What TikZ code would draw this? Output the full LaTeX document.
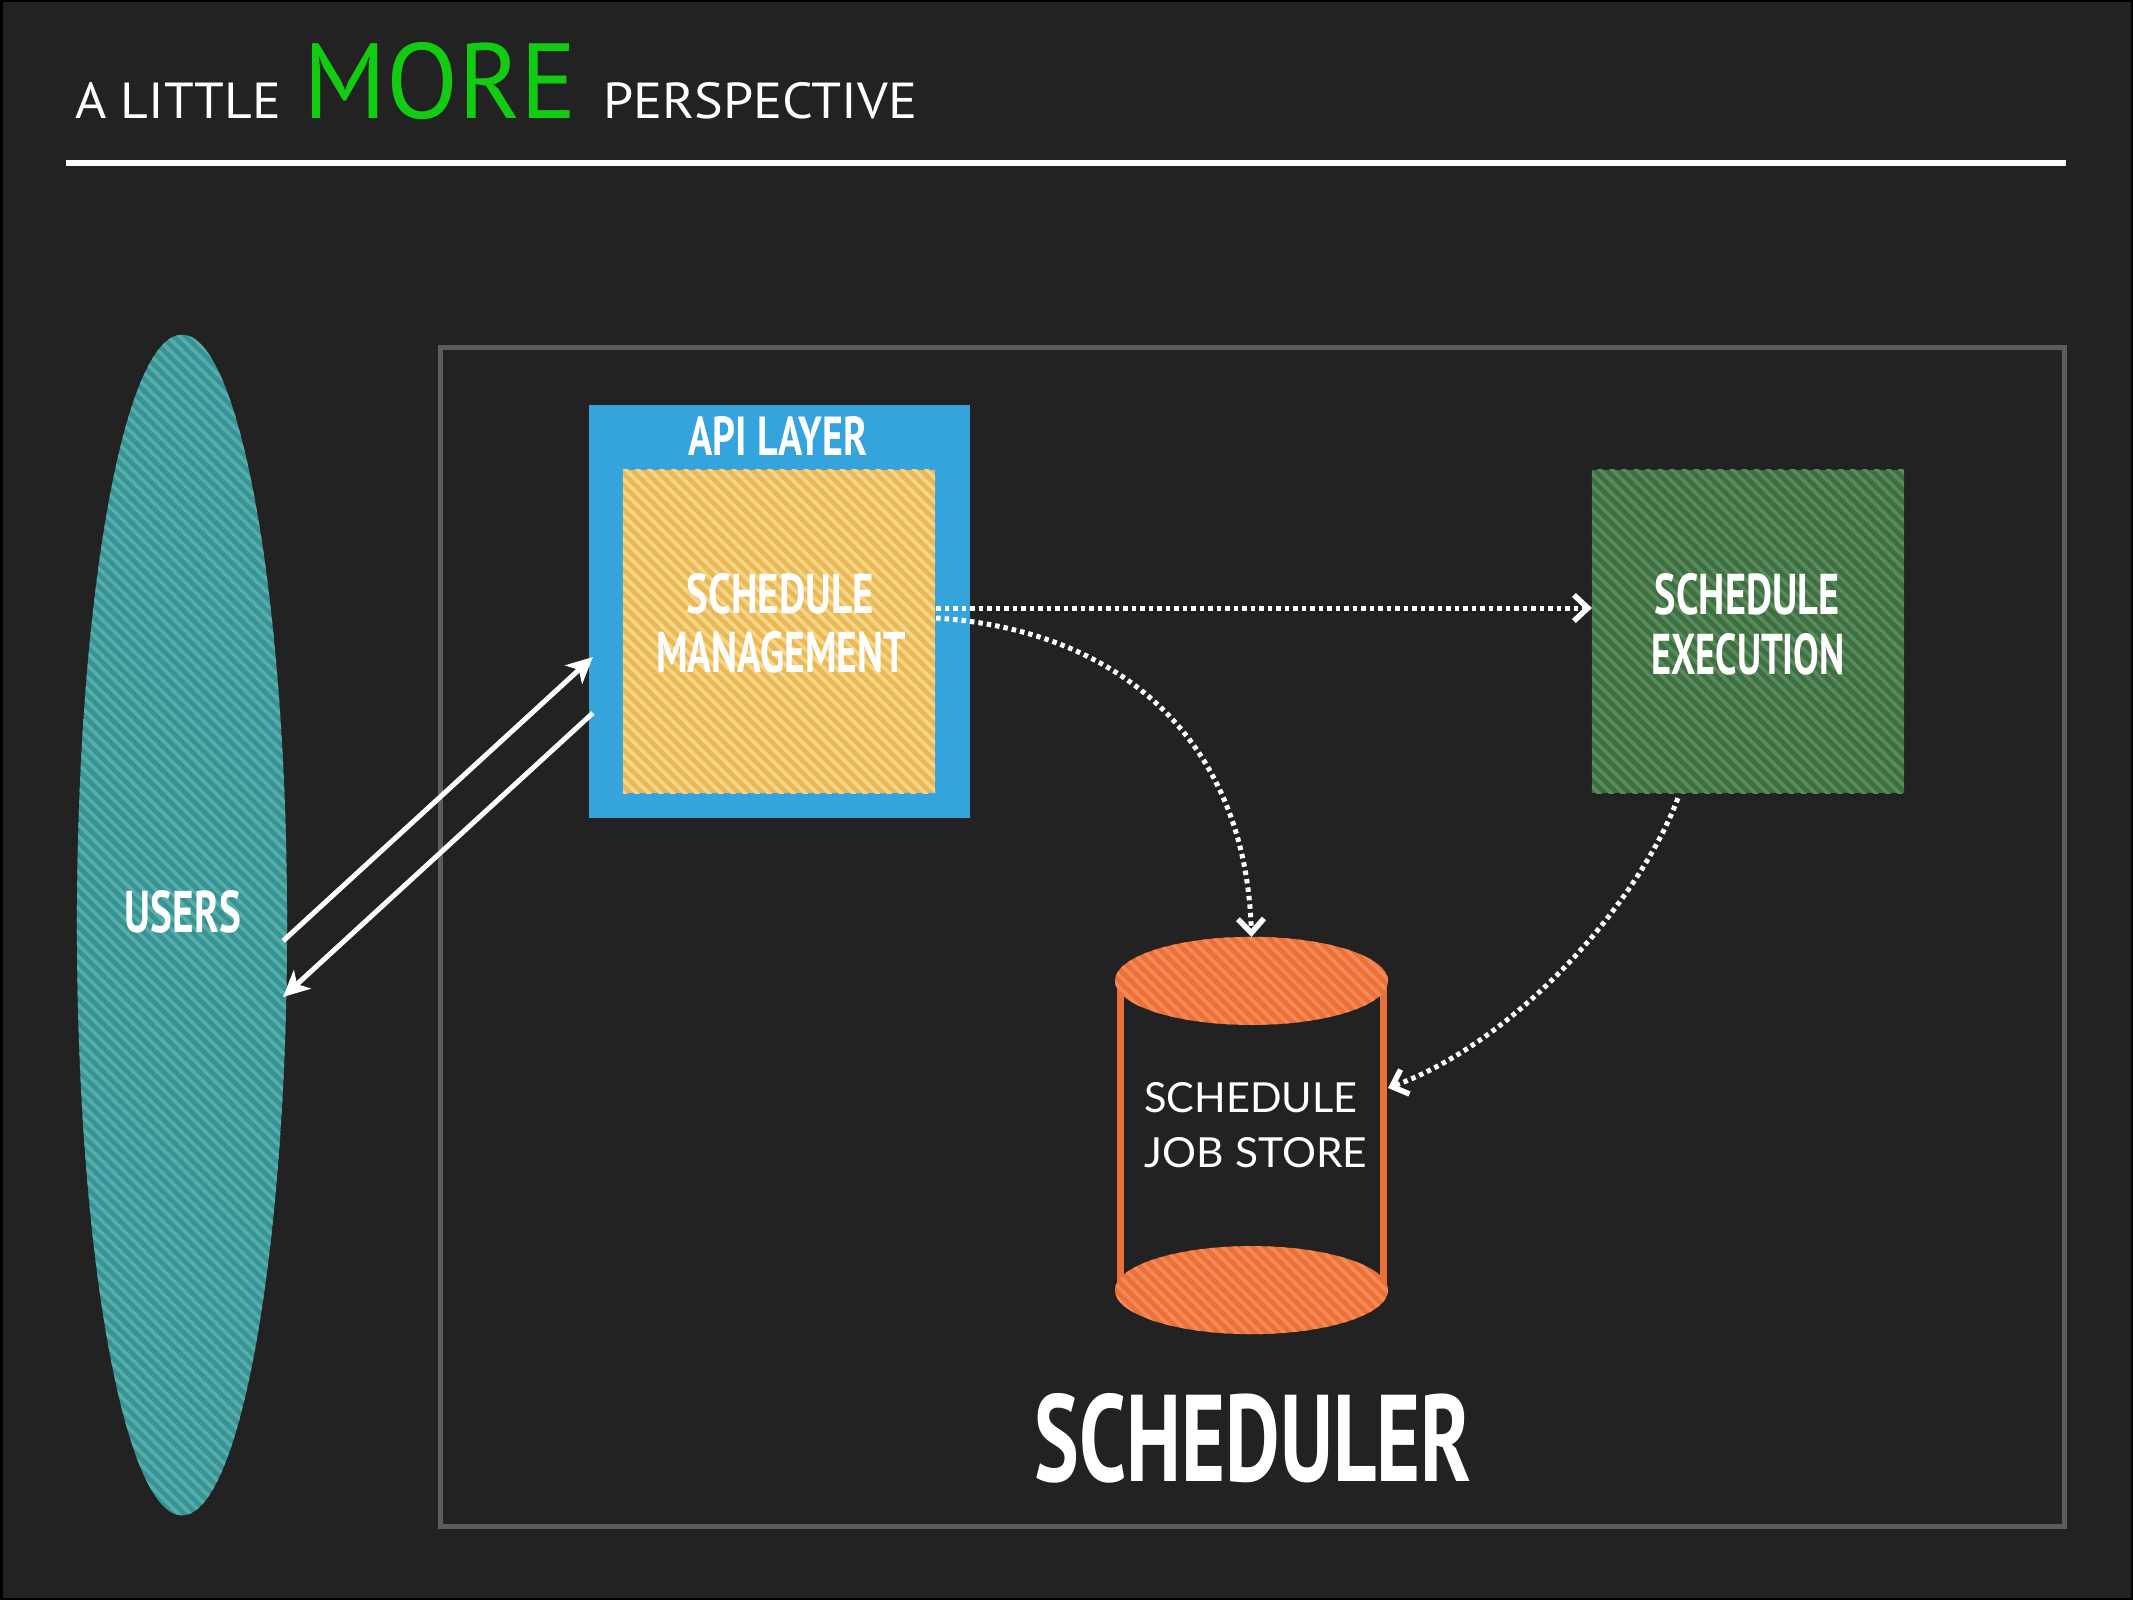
\documentclass[tikz,border=0pt]{standalone}
\usepackage{fontspec}
\usepackage{graphicx}
\usetikzlibrary{arrows.meta,patterns.meta,shapes.geometric,calc}
\newfontfamily\condfont{PT Sans}
\newfontfamily\dinfont{PT Sans}
\newfontfamily\avfont{Lato}
\definecolor{bg}{HTML}{222222}
\definecolor{framegray}{HTML}{5E5C57}
\definecolor{moregreen}{HTML}{12CC12}
\definecolor{apiblue}{HTML}{35A3DC}
\definecolor{tealbase}{HTML}{3A9393}
\definecolor{teallight}{HTML}{56AEAC}
\definecolor{yelbase}{HTML}{EAB957}
\definecolor{yellight}{HTML}{F7D688}
\definecolor{grnbase}{HTML}{3F6E41}
\definecolor{grnlight}{HTML}{588C5C}
\definecolor{orbase}{HTML}{EC7038}
\definecolor{orlight}{HTML}{F48A58}
\newcommand{\fitt}[3]{\resizebox{#1cm}{#2cm}{#3}}
\tikzset{
  stripe/.style 2 args={preaction={fill=#1},
    pattern={Lines[angle=-45,distance=0.085cm,line width=0.036cm]}, pattern color=#2},
  lbl/.style={text=white, inner sep=0pt, outer sep=0pt, font=\condfont\bfseries},
  ttl/.style={inner sep=0pt, outer sep=0pt, anchor=base west, font=\dinfont},
  boxnode/.style={rectangle, inner sep=0pt, outer sep=0pt},
  solidarrow/.style={draw=white, line width=0.05cm,
    -{Stealth[length=0.26cm,width=0.25cm,inset=0.07cm]}},
  dotarrow/.style={draw=white, line width=0.05cm, dash pattern=on 0.045cm off 0.04cm,
    -{Straight Barb[length=0.14cm,width=0.26cm,line width=0.055cm]}},
}
\begin{document}
\begin{tikzpicture}[x=0.01cm,y=-0.01cm]
\useasboundingbox (0,0) rectangle (2133,1600);
\fill[bg] (0,0) rectangle (2133,1600);
\draw[black,line width=0.05cm] (0,0) rectangle (2133,1600);

% title
\node[ttl,text=white] (t1) at (75,119) {\fitt{2.06}{0.36}{A LITTLE}};
\node[ttl,text=moregreen] (t2) at (303,119) {\fitt{2.74}{0.76}{MORE}};
\node[ttl,text=white] (t3) at (603,119) {\fitt{3.14}{0.36}{PERSPECTIVE}};
\draw[white,line width=0.06cm] (66,163) -- (2066,163);

% scheduler frame
\node[boxnode, draw=framegray, line width=0.05cm, minimum width=16.23cm, minimum height=11.78cm] (frame) at (1252.5,937) {};
\node[lbl] (schedlabel) at (1253,1438) {\fitt{4.36}{0.88}{SCHEDULER}};

% users
\node[ellipse, inner sep=0pt, outer sep=0pt, minimum width=2.10cm, minimum height=11.80cm, stripe={tealbase}{teallight}] (users) at (182,925) {};
\node[lbl] (userslabel) at (183,912) {\fitt{1.16}{0.42}{USERS}};

% api layer
\node[boxnode, fill=apiblue, minimum width=3.81cm, minimum height=4.13cm] (api) at (779.5,611.5) {};
\node[lbl] (apilabel) at (778,436) {\fitt{1.79}{0.39}{API LAYER}};
\node[boxnode, minimum width=3.12cm, minimum height=3.23cm, stripe={yelbase}{yellight}] (mgmt) at (779,631.5) {};
\node[lbl] (mgmt1) at (780,594) {\fitt{1.87}{0.40}{SCHEDULE}};
\node[lbl] (mgmt2) at (781,652) {\fitt{2.49}{0.41}{MANAGEMENT}};

% execution
\node[boxnode, minimum width=3.12cm, minimum height=3.23cm, stripe={grnbase}{grnlight}] (exec) at (1748,631.5) {};
\node[lbl] (exec1) at (1747,594) {\fitt{1.84}{0.41}{SCHEDULE}};
\node[lbl] (exec2) at (1748,654) {\fitt{1.93}{0.41}{EXECUTION}};

% job store cylinder
\node[boxnode, minimum width=2.73cm, minimum height=3.96cm] (store) at (1251.5,1135) {};
\draw[orbase, line width=0.07cm] ($(store.north west)+(5.5,44)$) -- ($(store.south west)+(5.5,-43)$)
  ($(store.north east)+(-4.5,44)$) -- ($(store.south east)+(-4.5,-43)$);
\path[stripe={orbase}{orlight}] ($(store.north)+(0,44)$) ellipse [x radius=1.365cm, y radius=0.44cm];
\path[stripe={orbase}{orlight}] ($(store.south)+(0,-43)$) ellipse [x radius=1.365cm, y radius=0.44cm];
\node[inner sep=0pt, text=white, font=\avfont] (store1) at (1251,1098) {\fitt{2.13}{0.30}{SCHEDULE}};
\node[inner sep=0pt, text=white, font=\avfont] (store2) at (1256,1153) {\fitt{2.22}{0.30}{JOB STORE}};

% solid arrows users <-> api
\coordinate (u1) at ($(users.east)+(-4,16)$);
\coordinate (u2) at ($(users.east)+(-4,72)$);
\coordinate (a1) at ($(api.west)+(4,45.5)$);
\coordinate (a2) at ($(api.west)+(4,101.5)$);
\draw[solidarrow] (u1) -- (a1);
\draw[solidarrow] (a2) -- (u2);

% dotted arrows
\coordinate (m1) at ($(mgmt.east)+(1,-23.5)$);
\coordinate (e1) at ($(exec.west)+(0,-23.5)$);
\coordinate (m2) at ($(mgmt.east)+(1,-13.5)$);
\coordinate (e2) at ($(exec.south west)+(86,5)$);
\coordinate (s2) at ($(store.east)+(0,-47)$);
\draw[dotarrow] (m1) -- (e1);
\draw[dotarrow] (m2) .. controls +(184,12) and +(-6,-197) .. (store.north);
\draw[dotarrow] (e2) .. controls +(-38,102) and +(131,-48) .. (s2);
\end{tikzpicture}
\end{document}
